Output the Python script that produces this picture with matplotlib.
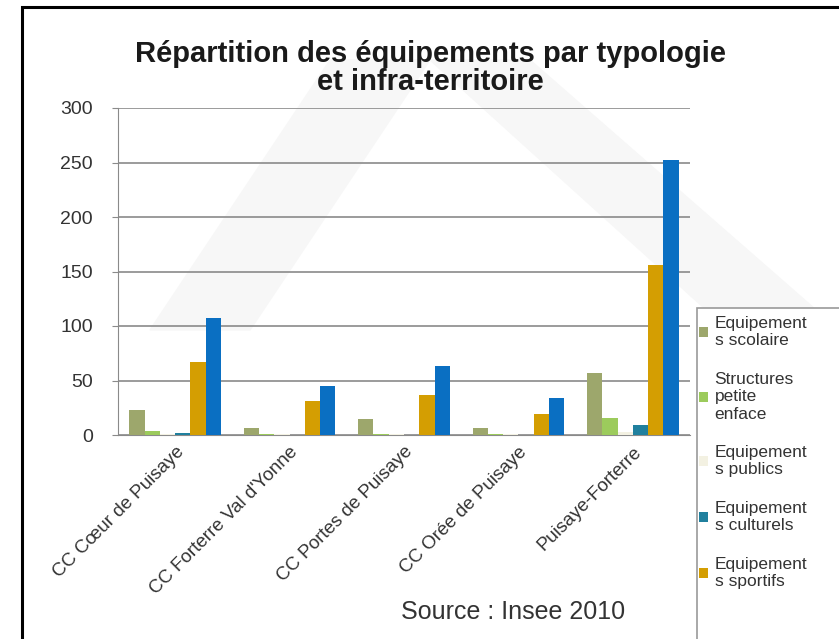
import matplotlib.pyplot as plt
import matplotlib.patches as mpatches
import numpy as np

# Données (Insee 2010)
territoires = ['CC Cœur de Puisaye', "CC Forterre Val d'Yonne", 'CC Portes de Puisaye',
               'CC Orée de Puisaye', 'Puisaye-Forterre']
scolaire = [23, 6, 15, 6, 57]
petite_enfance = [4, 1, 1, 1, 16]
publics = [1, 1, 1, 1, 3]
culturels = [2, 0, 0, 0, 9]
sportifs = [67, 31, 37, 19, 156]
autres = [107, 45, 63, 34, 252]

series = [scolaire, petite_enfance, publics, culturels, sportifs, autres]
noms = ['Equipement\ns scolaire', 'Structures\npetite\nenface', 'Equipement\ns publics',
        'Equipement\ns culturels', 'Equipement\ns sportifs', None]
couleurs = ['#9DA76C', '#9CCB5C', '#F3F1E2', '#20809E', '#D49E02', '#0A6FC2']

W, H = 839, 639
fig = plt.figure(figsize=(W / 100, H / 100), dpi=100)
plt.rcParams['font.family'] = ['Liberation Sans', 'DejaVu Sans']

def fx(px):
    return px / W

def fy(py):
    return 1 - py / H

# filigrane gris très clair en fond
for pts in ([(150, 330), (250, 330), (430, 60), (330, 60)],
            [(430, 60), (530, 60), (839, 330), (839, 430)]):
    fig.patches.append(mpatches.Polygon([(fx(a), fy(b)) for a, b in pts],
                                        transform=fig.transFigure, color='#F7F7F7',
                                        zorder=0))

# cadre noir
fig.patches.append(mpatches.Rectangle((fx(22), -0.2), 1.2, fy(7) + 0.2,
                                      transform=fig.transFigure, fill=False,
                                      edgecolor='black', lw=2.2, zorder=5))

ax = fig.add_axes([fx(118), fy(435), fx(690) - fx(118), fy(108) - fy(435)])
ax.set_facecolor('none')
ax.set_zorder(2)

x = np.arange(len(territoires))
n = len(series)
w = 0.8 / n
handles = []
for i, (vals, col) in enumerate(zip(series, couleurs)):
    b = ax.bar(x - 0.4 + w * (i + 0.5), vals, w, color=col, zorder=3)
    handles.append(b)

ax.set_ylim(0, 300)
ax.set_xlim(-0.5, len(territoires) - 0.5)
ax.set_yticks(range(0, 301, 50))
ax.yaxis.grid(True, color='#8a8a8a', lw=1.2, zorder=1)
ax.set_axisbelow(True)
for s in ['top', 'right']:
    ax.spines[s].set_visible(False)
ax.spines['left'].set_color('#8a8a8a')
ax.spines['bottom'].set_color('#8a8a8a')
ax.tick_params(axis='y', labelsize=14, colors='#8a8a8a', labelcolor='#333333',
               length=4, pad=14)
ax.tick_params(axis='x', length=0, pad=6)
ax.set_xticks(x)
ax.set_xticklabels(territoires, rotation=45, ha='right', rotation_mode='anchor',
                   fontsize=13.5, color='#333333')

fig.text(0.5 * (fx(125) + fx(735)), fy(68), 'Répartition des équipements par typologie\net infra-territoire',
         ha='center', va='center', fontsize=21, fontweight='bold', color='#1a1a1a',
         linespacing=1.0)

fig.text(fx(513), fy(612), 'Source : Insee 2010', ha='center', va='center',
         fontsize=18, color='#333333')

# légende : cadre qui descend sous le bord de l'image
fig.patches.append(mpatches.Rectangle((fx(697), -0.2), 1.0, fy(308) + 0.2,
                                      transform=fig.transFigure, facecolor='white',
                                      edgecolor='#9a9a9a', lw=1.2, zorder=1))
leg = fig.legend([h for h, nm in zip(handles, noms) if nm],
                 [nm for nm in noms if nm],
                 loc='upper left', bbox_to_anchor=(fx(699), fy(316)),
                 fontsize=12.5, frameon=False,
                 handlelength=0.5, handleheight=0.5, handletextpad=0.4,
                 labelspacing=1.35, borderpad=0.0, borderaxespad=0)
for t in leg.get_texts():
    t.set_color('#333333')

fig.savefig('out.png', dpi=100)
